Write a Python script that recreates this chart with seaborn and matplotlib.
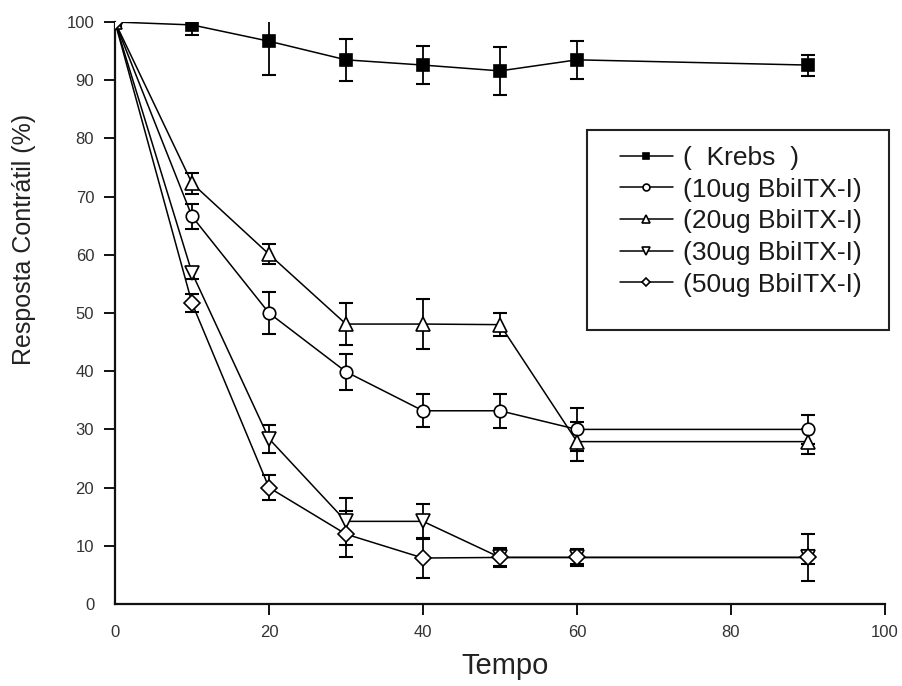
import matplotlib
matplotlib.use("Agg")
import matplotlib.pyplot as plt
import seaborn as sns
import pandas as pd
from matplotlib.patches import Rectangle

# ---- data ----
tempo = [0, 10, 20, 30, 40, 50, 60, 90]
krebs = [100, 99.5, 96.7, 93.5, 92.6, 91.6, 93.5, 92.6]
krebs_err = [0, 1.8, 5.8, 3.6, 3.2, 4.1, 3.3, 1.8]
ug10 = [100, 66.6, 50.0, 39.9, 33.2, 33.2, 30.0, 30.0]
ug10_err = [0, 2.2, 3.6, 3.1, 2.8, 2.9, 3.7, 2.5]
ug20 = [100, 72.3, 60.1, 48.1, 48.1, 48.0, 27.9, 27.9]
ug20_err = [0, 1.8, 1.7, 3.6, 4.3, 2.0, 3.4, 2.2]
ug30 = [100, 56.9, 28.4, 14.2, 14.2, 8.0, 8.0, 8.0]
ug30_err = [0, 1.0, 2.4, 4.0, 3.0, 1.5, 1.2, 1.2]
ug50 = [100, 51.7, 20.0, 12.0, 7.9, 8.0, 8.0, 8.0]
ug50_err = [0, 1.5, 2.2, 4.0, 3.4, 1.7, 1.5, 4.0]

labels = ["(  Krebs  )", "(10ug BbiITX-I)", "(20ug BbiITX-I)",
          "(30ug BbiITX-I)", "(50ug BbiITX-I)"]
series = [krebs, ug10, ug20, ug30, ug50]
errors = [krebs_err, ug10_err, ug20_err, ug30_err, ug50_err]
markers = ["s", "o", "^", "v", "D"]
msizes = [9, 9, 10, 10, 8]
faces = ["black", "white", "white", "white", "white"]
xticks = [0, 20, 40, 60, 80, 100]
yticks = list(range(0, 101, 10))

sns.set_style("ticks")
plt.rcParams["font.family"] = ["Liberation Sans", "DejaVu Sans"]

fig = plt.figure(figsize=(9.03, 6.86), dpi=100)
ax = fig.add_axes([115 / 903, 1 - 604 / 686, 770 / 903, 582 / 686])

for lab, ys, es, m, ms, fc in zip(labels, series, errors, markers, msizes, faces):
    df = pd.DataFrame({"Tempo": tempo, "val": ys})
    ax.errorbar(tempo, ys, yerr=es, fmt="none", ecolor="black",
                elinewidth=1.3, capsize=5, capthick=1.5, zorder=2)
    sns.lineplot(data=df, x="Tempo", y="val", ax=ax, color="black",
                 linewidth=1.1, marker=m, markersize=ms,
                 markerfacecolor=fc, markeredgecolor="black",
                 markeredgewidth=1.2, label=lab, zorder=3)

ax.set_xlim(0, 100)
ax.set_ylim(0, 100)
ax.set_xticks(xticks)
ax.set_yticks(yticks)
ax.set_xticklabels([str(v) for v in xticks])
ax.set_yticklabels([str(v) for v in yticks])
sns.despine(ax=ax)
for s in ["left", "bottom"]:
    ax.spines[s].set_linewidth(1.6)
    ax.spines[s].set_color("#111111")
ax.tick_params(axis="both", direction="out", length=8, width=1.4,
               labelsize=12, colors="#111111", labelcolor="#333333", pad=7)
ax.xaxis.get_major_ticks()[0].tick1line.set_visible(False)
ax.yaxis.get_major_ticks()[0].tick1line.set_visible(False)

ax.set_xlabel("Tempo", fontsize=21, color="#222222")
ax.set_ylabel("Resposta Contrátil (%)", fontsize=18, color="#222222")
ax.xaxis.set_label_coords(0.506, -0.082)
ax.yaxis.set_label_coords(-0.103, 0.627)

leg = ax.legend(loc="upper left", bbox_to_anchor=(620 / 903, 1 - 146 / 686),
                bbox_transform=fig.transFigure, frameon=False,
                fontsize=19, markerscale=0.55, handlelength=2.0,
                handletextpad=0.4, labelspacing=0.29, borderpad=0,
                borderaxespad=0)
for t in leg.get_texts():
    t.set_color("#1a1a1a")

fig.patches.append(Rectangle((587 / 903, 1 - 330 / 686), 302 / 903, 200 / 686,
                             transform=fig.transFigure, fill=False,
                             edgecolor="#222222", linewidth=1.5))

fig.savefig("out.png", dpi=100, facecolor="white")
